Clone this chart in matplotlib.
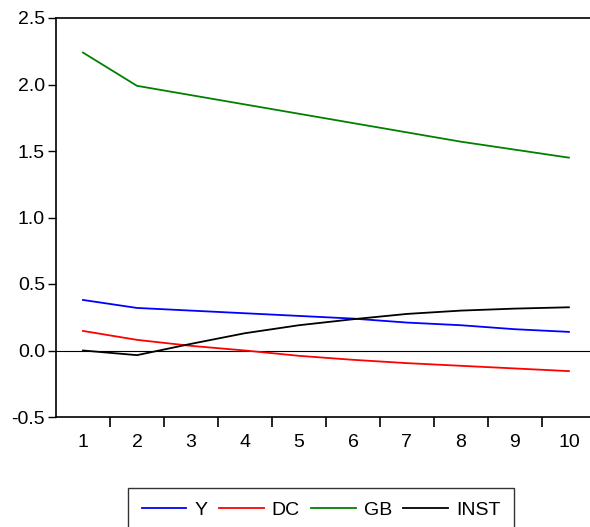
import matplotlib.pyplot as plt
from matplotlib import font_manager

periods = [1, 2, 3, 4, 5, 6, 7, 8, 9, 10]
y_resp = [0.38, 0.32, 0.30, 0.28, 0.26, 0.24, 0.21, 0.19, 0.16, 0.14]
dc_resp = [0.147, 0.08, 0.035, 0.0, -0.04, -0.07, -0.095, -0.115, -0.135, -0.155]
gb_resp = [2.24, 1.99, 1.92, 1.85, 1.78, 1.71, 1.64, 1.57, 1.51, 1.45]
inst_resp = [0.0, -0.035, 0.05, 0.13, 0.19, 0.235, 0.275, 0.30, 0.315, 0.325]

names = {f.name for f in font_manager.fontManager.ttflist}
fam = 'Liberation Sans Narrow' if 'Liberation Sans Narrow' in names else 'Liberation Sans'
plt.rcParams['font.family'] = [fam, 'DejaVu Sans']

fig = plt.figure(figsize=(5.9, 5.27), dpi=100)
ax = fig.add_axes([56 / 590, 1 - 417 / 527, 1 - 56 / 590 + 0.01, 399 / 527])

ax.axhline(0, color='black', lw=0.8)
ax.plot(periods, y_resp, color='#0000ff', lw=1.3, label='Y')
ax.plot(periods, dc_resp, color='#ff0000', lw=1.3, label='DC')
ax.plot(periods, gb_resp, color='#008000', lw=1.3, label='GB')
ax.plot(periods, inst_resp, color='black', lw=1.3, label='INST')

ax.set_xlim(0.5, 10.5)
ax.set_ylim(-0.5, 2.5)
ax.set_yticks([-0.5, 0.0, 0.5, 1.0, 1.5, 2.0, 2.5])
ax.set_yticklabels(['-0.5', '0.0', '0.5', '1.0', '1.5', '2.0', '2.5'])
ax.set_xticks(periods)
ax.set_xticks([p + 0.5 for p in periods[:-1]], minor=True)
ax.tick_params(axis='x', which='major', length=0, pad=12, labelsize=14)
ax.tick_params(axis='x', which='minor', length=7, width=1.2, direction='out')
ax.tick_params(axis='y', length=6, width=1, direction='out', labelsize=14, pad=2)
for s in ['left', 'bottom', 'top']:
    ax.spines[s].set_linewidth(1.2)
ax.spines['right'].set_visible(False)

leg = fig.legend(loc='upper left', bbox_to_anchor=(128 / 590, 1 - 488 / 527), ncol=4,
                 frameon=True, fancybox=False, edgecolor='black', fontsize=14,
                 handlelength=2.3, columnspacing=0.6, handletextpad=0.4,
                 borderpad=0.7, borderaxespad=0)
leg.get_frame().set_linewidth(1.0)

fig.savefig('out.png', dpi=100)
